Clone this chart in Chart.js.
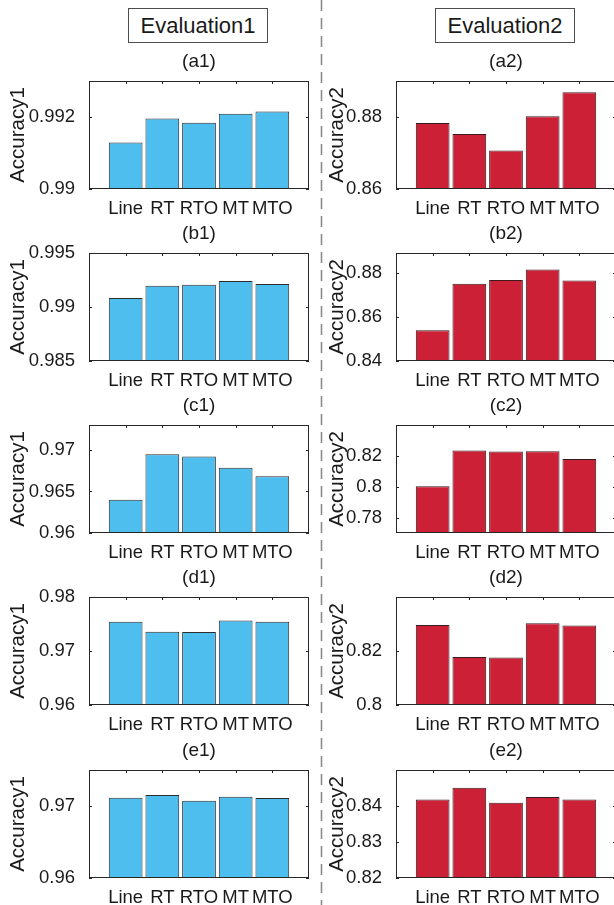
<!DOCTYPE html>
<html>
<head>
<meta charset="utf-8">
<script src="https://cdn.jsdelivr.net/npm/chart.js@4.4.1/dist/chart.umd.min.js"></script>
<style>
  body { margin: 0; background: #fff; width: 614px; height: 905px; position: relative; overflow: hidden;
         font-family: "Liberation Sans", Arial, sans-serif; }
  .panel { position: absolute; }
  .evalbox { position: absolute; top: 8px; height: 35px; border: 1px solid #4d4d4d; box-sizing: border-box;
             font-size: 22px; line-height: 33px; text-align: center; color: #1a1a1a; }
  #sep { position: absolute; left: 0; top: 0; }
</style>
</head>
<body>
<div class="evalbox" style="left:128px;width:140px">Evaluation1</div>
<div class="evalbox" style="left:435px;width:140px">Evaluation2</div>
<svg id="sep" width="614" height="905"><line x1="321.5" y1="0" x2="321.5" y2="905" stroke="#8c8c8c" stroke-width="1.6" stroke-dasharray="11 7"/></svg>
<script>
const categories = ['Line', 'RT', 'RTO', 'MT', 'MTO'];
const titles1 = ['(a1)', '(b1)', '(c1)', '(d1)', '(e1)'];
const titles2 = ['(a2)', '(b2)', '(c2)', '(d2)', '(e2)'];

// Evaluation1 -> Accuracy1
const a1 = [0.99129, 0.99196, 0.99184, 0.99209, 0.99215];
const b1 = [0.99084, 0.99197, 0.99206, 0.99240, 0.99213];
const c1 = [0.96400, 0.96947, 0.96920, 0.96784, 0.96683];
const d1 = [0.97541, 0.97358, 0.97350, 0.97565, 0.97541];
const e1 = [0.97115, 0.97152, 0.97073, 0.97129, 0.97111];

// Evaluation2 -> Accuracy2
const a2 = [0.8783, 0.8753, 0.8707, 0.8802, 0.8869];
const b2 = [0.8539, 0.8750, 0.8768, 0.8815, 0.8765];
const c2 = [0.8003, 0.8235, 0.8228, 0.8230, 0.8179];
const d2 = [0.8296, 0.8178, 0.8176, 0.8303, 0.8294];
const e2 = [0.8418, 0.8451, 0.8409, 0.8425, 0.8418];

const yMin1 = [0.99, 0.985, 0.96, 0.96, 0.96];
const yMax1 = [0.993, 0.995, 0.973, 0.98, 0.975];
const yTicks1 = [[0.99, 0.992], [0.985, 0.99, 0.995], [0.96, 0.965, 0.97], [0.96, 0.97, 0.98], [0.96, 0.97]];

const yMin2 = [0.86, 0.84, 0.77, 0.8, 0.82];
const yMax2 = [0.89, 0.889, 0.84, 0.84, 0.85];
const yTicks2 = [[0.86, 0.88], [0.84, 0.86, 0.88], [0.78, 0.8, 0.82], [0.8, 0.82], [0.82, 0.83, 0.84]];

const series1 = [a1, b1, c1, d1, e1];
const series2 = [a2, b2, c2, d2, e2];

const TEXT = '#1a1a1a';
Chart.defaults.font.family = '"Liberation Sans", Arial, sans-serif';
Chart.defaults.color = TEXT;

// box + inward ticks, matlab style
const matlabAxes = {
  id: 'matlabAxes',
  beforeDatasetsDraw(chart) {
    const { ctx, chartArea: a, scales: { x, y } } = chart;
    ctx.save();
    ctx.strokeStyle = '#262626';
    ctx.lineWidth = 1;
    ctx.beginPath();
    x.ticks.forEach(t => {
      const px = Math.round(x.getPixelForValue(t.value)) + 0.5;
      ctx.moveTo(px, a.top); ctx.lineTo(px, a.top + 3);
      ctx.moveTo(px, a.bottom); ctx.lineTo(px, a.bottom - 3);
    });
    y.ticks.forEach(t => {
      const py = Math.round(y.getPixelForValue(t.value)) + 0.5;
      ctx.moveTo(a.left, py); ctx.lineTo(a.left + 3, py);
      ctx.moveTo(a.right, py); ctx.lineTo(a.right - 3, py);
    });
    ctx.stroke();
    ctx.restore();
  },
  afterDatasetsDraw(chart) {
    const { ctx, chartArea: a } = chart;
    ctx.save();
    ctx.strokeStyle = '#262626';
    ctx.lineWidth = 1;
    ctx.strokeRect(Math.round(a.left) + 0.5, Math.round(a.top) + 0.5,
                   Math.round(a.right - a.left) - 1, Math.round(a.bottom - a.top) - 1);
    ctx.restore();
  }
};

function makePanel(p) {
  const canvas = document.createElement('canvas');
  canvas.width = p.w;
  canvas.height = 180;
  canvas.className = 'panel';
  canvas.style.left = p.left + 'px';
  canvas.style.top = p.top + 'px';
  document.body.appendChild(canvas);

  new Chart(canvas, {
    type: 'bar',
    data: {
      datasets: [{
        data: p.values.map((v, i) => ({ x: i + 1, y: v })),
        backgroundColor: p.color,
        borderColor: p.edge,
        borderWidth: 1,
        borderSkipped: false,
        barPercentage: 0.92,
        categoryPercentage: 1
      }]
    },
    options: {
      responsive: false,
      animation: false,
      events: [],
      layout: { padding: { top: 0, right: 2, bottom: 0, left: 0 } },
      plugins: {
        legend: { display: false },
        tooltip: { enabled: false },
        title: {
          display: true, text: p.title, fullSize: false, color: TEXT,
          font: { size: 19, weight: 'normal' }, padding: { top: 9.8, bottom: 7.4 }
        }
      },
      scales: {
        x: {
          type: 'linear', min: 0, max: 6, offset: false,
          grid: { display: false }, border: { display: false },
          afterBuildTicks: s => { s.ticks = categories.map((c, i) => ({ value: i + 1 })); },
          afterFit: s => { s.height = 32; },
          ticks: { font: { size: 18.5 }, padding: 1, maxRotation: 0, autoSkip: false,
                   callback: v => categories[v - 1] }
        },
        y: {
          min: p.min, max: p.max,
          grid: { display: false }, border: { display: false },
          afterBuildTicks: s => { s.ticks = p.ticks.map(v => ({ value: v })); },
          afterFit: s => { s.width = p.axisW; },
          ticks: { font: { size: 18.5 }, padding: 6, callback: v => String(v) },
          title: { display: true, text: p.yLabel, font: { size: 20.5 }, padding: { top: 6, bottom: 0 } }
        }
      }
    },
    plugins: [matlabAxes]
  });
}

const rowTops = [81, 253, 425, 597, 770];
rowTops.forEach((top, r) => {
  makePanel({
    left: 0, w: 311, axisW: 89, top: top - 40,
    values: series1[r], title: titles1[r], yLabel: 'Accuracy1',
    min: yMin1[r], max: yMax1[r], ticks: yTicks1[r],
    color: '#4DBEEE', edge: '#2b2b2b'
  });
  makePanel({
    left: 319, w: 299, axisW: 77, top: top - 40,
    values: series2[r], title: titles2[r], yLabel: 'Accuracy2',
    min: yMin2[r], max: yMax2[r], ticks: yTicks2[r],
    color: '#CB2036', edge: '#3a1a1e'
  });
});
</script>
</body>
</html>
